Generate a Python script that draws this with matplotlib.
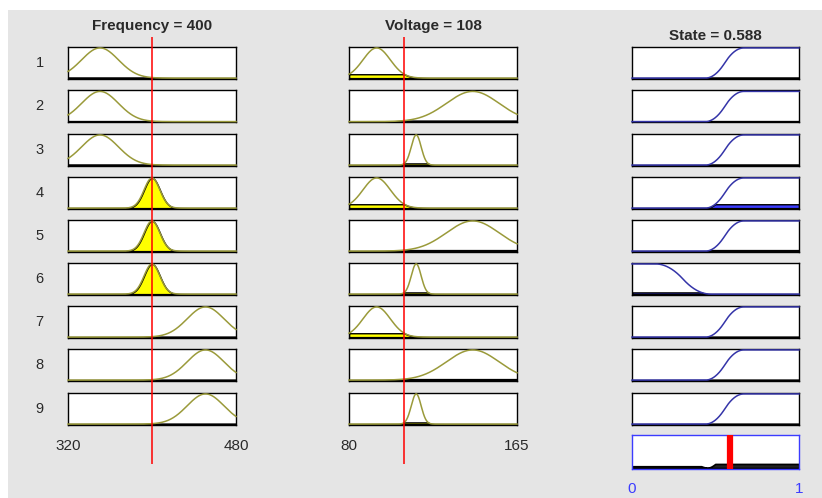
import matplotlib

matplotlib.use('Agg')
import matplotlib.pyplot as plt
from matplotlib.patches import Rectangle
import numpy as np

plt.rcParams['font.family'] = ['Liberation Sans', 'DejaVu Sans']

# fuzzy system
input_names = ["Frequency", "Voltage"]
input_values = [400, 108]
input_ranges = [(320, 480), (80, 165)]
output_name = "State"
output_value = 0.588
output_range = (0, 1)

rule_ids = [1, 2, 3, 4, 5, 6, 7, 8, 9]

# gaussian MFs per rule (center, sigma)
freq_centers = [350.5, 350.5, 350.5, 400, 400, 400, 451, 451, 451]
freq_sigmas = [17.5, 17.5, 17.5, 7.5, 7.5, 7.5, 17.5, 17.5, 17.5]
volt_centers = [94, 142.6, 114, 94, 142.6, 114, 94, 142.6, 114]
volt_sigmas = [6.9, 13.3, 2.5, 6.9, 13.3, 2.5, 6.9, 13.3, 2.5]

# output MFs per rule: s- or z-shaped (a, b)
out_shapes = ["s", "s", "s", "s", "s", "z", "s", "s", "s"]
out_a = [0.44, 0.44, 0.44, 0.44, 0.44, 0.14, 0.44, 0.44, 0.44]
out_b = [0.67, 0.67, 0.67, 0.67, 0.67, 0.47, 0.67, 0.67, 0.67]

OLIVE = "#9a9a3a"
NAVY = "#3434a8"
BLUE = "#3c3cff"
TEXT = "#2a2a2a"


def gaussmf(x, c, s):
    return np.exp(-(x - c) ** 2 / (2 * s ** 2))


def smf(x, a, b):
    m = (a + b) / 2
    y = np.zeros_like(x)
    y[x >= b] = 1
    i1 = (x > a) & (x <= m)
    i2 = (x > m) & (x < b)
    y[i1] = 2 * ((x[i1] - a) / (b - a)) ** 2
    y[i2] = 1 - 2 * ((x[i2] - b) / (b - a)) ** 2
    return y


W, H = 822, 498
fig = plt.figure(figsize=(W / 100, H / 100), dpi=100)
fig.patch.set_facecolor("white")
fig.add_artist(Rectangle((8 / W, 0), 1, 1 - 10 / H, transform=fig.transFigure,
                         facecolor="#e5e5e5", edgecolor="none", zorder=-5))


def px_axes(x0, x1, top, h):
    return fig.add_axes([x0 / W, 1 - (top + h) / H, (x1 - x0) / W, h / H])


col_x = [(68, 236), (349, 517), (632, 799)]
row_top = [47, 90.5, 134, 177, 220, 263, 306, 349, 393]
row_h = 32


def style_box(ax, color="black"):
    ax.set_yticks([])
    ax.set_xticks([])
    for sp in ax.spines.values():
        sp.set_color(color)
        sp.set_linewidth(1.0)
    ax.set_ylim(-0.03, 1.03)


firing = []
for r in range(9):
    degs = []
    for k, (centers, sigmas) in enumerate([(freq_centers, freq_sigmas), (volt_centers, volt_sigmas)]):
        lo, hi = input_ranges[k]
        x = np.linspace(lo, hi, 500)
        mf = gaussmf(x, centers[r], sigmas[r])
        deg = gaussmf(input_values[k], centers[r], sigmas[r])
        degs.append(deg)
        ax = px_axes(*col_x[k], row_top[r], row_h)
        style_box(ax)
        ax.set_xlim(lo, hi)
        ax.fill_between(x, 0, np.minimum(mf, deg), facecolor="yellow",
                        edgecolor="black", linewidth=1.0, zorder=2)
        ax.plot(x, mf, color=OLIVE, linewidth=1.1, zorder=3, clip_on=False)
        if r == 8:
            ax.set_xticks([lo, hi])
            ax.set_xticklabels([str(lo), str(hi)])
            ax.tick_params(length=0, pad=10, labelsize=11, colors=TEXT)
    firing.append(min(degs))
    yc = row_top[r] + row_h / 2
    fig.text(39.5 / W, 1 - yc / H, str(rule_ids[r]), ha="center", va="center",
             fontsize=10.5, color=TEXT)

# output column
xo = np.linspace(output_range[0], output_range[1], 500)
agg = np.zeros_like(xo)
for r in range(9):
    mf = smf(xo, out_a[r], out_b[r])
    if out_shapes[r] == "z":
        mf = 1 - mf
    clipped = np.minimum(mf, firing[r])
    agg = np.maximum(agg, clipped)
    ax = px_axes(*col_x[2], row_top[r], row_h)
    style_box(ax)
    ax.set_xlim(*output_range)
    ax.fill_between(xo, 0, clipped, facecolor=BLUE, edgecolor="black",
                    linewidth=1.0, zorder=2)
    ax.plot(xo, mf, color=NAVY, linewidth=1.1, zorder=3, clip_on=False)

# aggregate panel
ax = px_axes(*col_x[2], 435, 34)
style_box(ax, color=BLUE)
ax.set_xlim(*output_range)
ax.fill_between(xo, 0, agg, facecolor="#222222", edgecolor="black",
                linewidth=1.2, zorder=2)
ax.axvline(output_value, ymin=0.05, ymax=0.95, color="red", linewidth=4.5, zorder=4)
ax.set_xticks(list(output_range))
ax.set_xticklabels(["0", "1"])
ax.tick_params(length=0, pad=9.5, labelsize=11, colors=BLUE)

# red input markers across each input column
for k in range(2):
    x0, x1 = col_x[k]
    ov = fig.add_axes([x0 / W, 1 - 464 / H, (x1 - x0) / W, (464 - 37) / H])
    ov.set_xlim(*input_ranges[k])
    ov.set_ylim(0, 1)
    ov.set_axis_off()
    ov.axvline(input_values[k], color="red", linewidth=1.1)

# titles
fig.text((68 + 236) / 2 / W, 1 - 30 / H, f"{input_names[0]} = {input_values[0]}",
         ha="center", va="baseline", fontsize=11, fontweight="bold", color=TEXT)
fig.text((349 + 517) / 2 / W, 1 - 30 / H, f"{input_names[1]} = {input_values[1]}",
         ha="center", va="baseline", fontsize=11, fontweight="bold", color=TEXT)
fig.text((632 + 799) / 2 / W, 1 - 40 / H, f"{output_name} = {output_value}",
         ha="center", va="baseline", fontsize=11, fontweight="bold", color=TEXT)

fig.savefig("out.png", dpi=100)
